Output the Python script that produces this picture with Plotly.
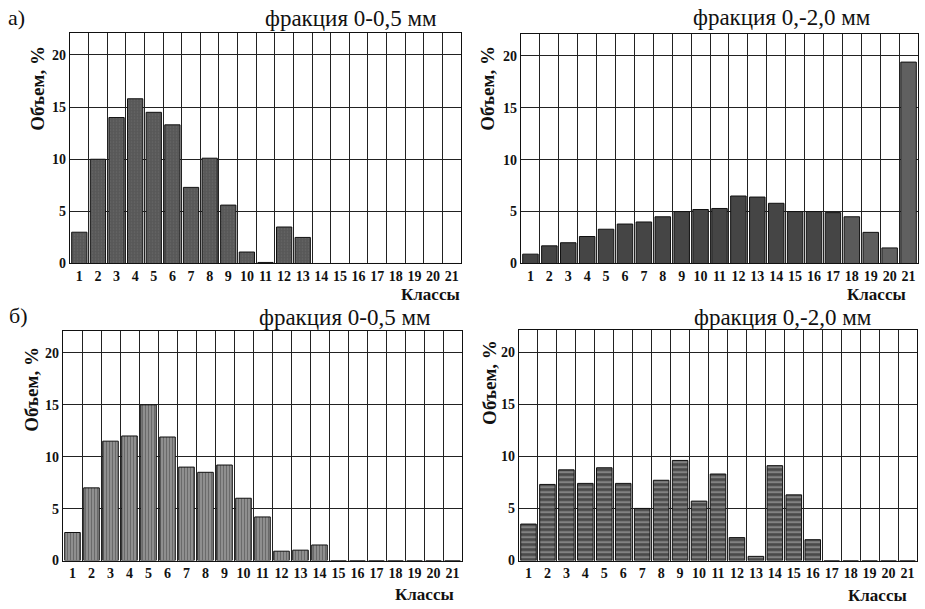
import plotly.graph_objects as go

classes = list(range(1, 22))
class_labels = [str(c) for c in classes]
y_ticks = [0, 5, 10, 15, 20]

# а) фракция 0-0,5 мм
a_small = [3.0, 10.0, 14.0, 15.8, 14.5, 13.3, 7.3, 10.1, 5.6, 1.1, 0.1,
           3.5, 2.5, 0, 0, 0, 0, 0, 0, 0, 0]
# а) фракция 0,-2,0 мм
a_large = [0.9, 1.7, 2.0, 2.6, 3.3, 3.8, 4.0, 4.5, 5.0, 5.2, 5.3,
           6.5, 6.4, 5.8, 5.0, 5.0, 4.9, 4.5, 3.0, 1.5, 19.4]
# б) фракция 0-0,5 мм
b_small = [2.7, 7.0, 11.5, 12.0, 15.0, 11.9, 9.0, 8.5, 9.2, 6.0, 4.2,
           0.9, 1.0, 1.5, 0, 0, 0, 0, 0, 0, 0]
# б) фракция 0,-2,0 мм
b_large = [3.5, 7.3, 8.7, 7.4, 8.9, 7.4, 5.0, 7.7, 9.6, 5.7, 8.3,
           2.2, 0.4, 9.1, 6.3, 2.0, 0, 0, 0, 0, 0]

titles = ["фракция 0-0,5 мм", "фракция 0,-2,0 мм", "фракция 0-0,5 мм", "фракция 0,-2,0 мм"]

W, H = 925, 609
def px_x(v): return v / W
def px_y(v): return 1 - v / H

# plot areas in pixels: (x0, x1, ytop, ybottom)
boxes = [(70, 461, 33, 267), (521, 918, 34, 267), (63, 462, 335, 568), (519, 917, 334, 568)]

serif = "Liberation Serif"
fig = go.Figure()

markers = [
    dict(color="#5c5c5c", line=dict(color="#111", width=1),
         pattern=dict(shape=".", fgcolor="#7a7a7a", bgcolor="#585858", size=3, solidity=0.2)),
    dict(color=["#454545"] * 17 + ["#5a5a5a", "#5e5e5e", "#626262", "#606060"],
         line=dict(color="#111", width=1)),
    dict(color="#8c8c8c", line=dict(color="#111", width=1),
         pattern=dict(shape="|", fgcolor="#3a3a3a", bgcolor="#9a9a9a", size=3, solidity=0.5)),
    dict(color="#555", line=dict(color="#111", width=1),
         pattern=dict(shape="-", fgcolor="#e8e8e8", bgcolor="#4a4a4a", size=5, solidity=0.3)),
]
series = [a_small, a_large, b_small, b_large]

for i, (vals, mk, box) in enumerate(zip(series, markers, boxes)):
    n = i + 1
    xa = "x" if n == 1 else f"x{n}"
    ya = "y" if n == 1 else f"y{n}"
    fig.add_trace(go.Bar(x=classes, y=vals, marker=mk, width=0.82,
                         xaxis=xa, yaxis=ya, showlegend=False))
    x0, x1, yt, yb = box
    xkey = "xaxis" if n == 1 else f"xaxis{n}"
    ykey = "yaxis" if n == 1 else f"yaxis{n}"
    fig.layout[xkey] = dict(
        domain=[px_x(x0), px_x(x1)], anchor=ya, range=[0.5, 21.5],
        tickvals=classes, ticktext=[f"<b>{c}</b>" for c in class_labels],
        showgrid=False, ticks="",
        tickfont=dict(family=serif, size=14, color="#111"),
        showline=True, linecolor="#111", linewidth=1.2, mirror=True,
        minor=dict(tickvals=[c + 0.5 for c in range(0, 22)], showgrid=True,
                   gridcolor="#222", gridwidth=1, ticks=""),
        zeroline=False, fixedrange=True)
    fig.layout[ykey] = dict(
        domain=[px_y(yb), px_y(yt)], anchor=xa, range=[0, 22.15],
        tickvals=y_ticks, ticktext=[f"<b>{t}</b>" for t in y_ticks], showgrid=True,
        gridcolor="#222", gridwidth=1, ticks="",
        tickfont=dict(family=serif, size=14, color="#111"),
        showline=True, linecolor="#111", linewidth=1.2, mirror=True,
        zeroline=False, fixedrange=True)

ann = []
title_pos = [(351, 19), (782, 18), (345, 322), (783, 322)]
for t, (x, y) in zip(titles, title_pos):
    ann.append(dict(text=t, x=px_x(x), y=px_y(y), xref="paper", yref="paper",
                    showarrow=False, font=dict(family=serif, size=23, color="#111"),
                    xanchor="center", yanchor="middle"))
ylab_pos = [(38, 90), (488, 90), (32, 395), (490, 388)]
for (x, y) in ylab_pos:
    ann.append(dict(text="<b>Объем, %</b>", x=px_x(x), y=px_y(y), xref="paper", yref="paper",
                    showarrow=False, textangle=-90, font=dict(family=serif, size=19, color="#111"),
                    xanchor="center", yanchor="middle"))
xlab_pos = [(430, 298), (876, 298), (424, 602), (877, 603)]
for (x, y) in xlab_pos:
    ann.append(dict(text="<b>Классы</b>", x=px_x(x), y=px_y(y), xref="paper", yref="paper",
                    showarrow=False, font=dict(family=serif, size=17, color="#111"),
                    xanchor="center", yanchor="middle"))
for t, (x, y) in [("а)", (16, 18)), ("б)", (18, 320))]:
    ann.append(dict(text=t, x=px_x(x), y=px_y(y), xref="paper", yref="paper",
                    showarrow=False, font=dict(family=serif, size=22, color="#111"),
                    xanchor="center", yanchor="middle"))

fig.update_layout(width=W, height=H, margin=dict(l=0, r=0, t=0, b=0),
                  paper_bgcolor="white", plot_bgcolor="white",
                  annotations=ann, bargap=0.18)
fig.write_html("out.html", config={"displayModeBar": False})

with open("out.html", "r", encoding="utf-8") as f:
    html = f.read()
html = html.replace("<body>", '<body style="margin:0;padding:0;overflow:hidden">', 1)
with open("out.html", "w", encoding="utf-8") as f:
    f.write(html)
